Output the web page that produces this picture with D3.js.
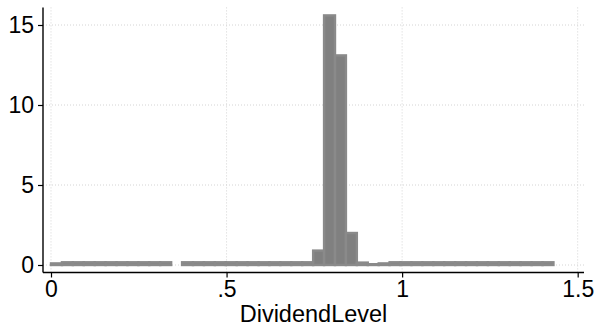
<!DOCTYPE html>
<html><head><meta charset="utf-8">
<script src="https://cdn.jsdelivr.net/npm/d3@7"></script>
<style>body{margin:0;background:#fff}svg{display:block}text{font-family:"Liberation Sans",Arial,sans-serif;fill:#000}</style>
</head><body><svg id="c" width="596" height="331"></svg>
<script>
const binMin = 0, binMax = 1.431;
const density = [0.10,0.17,0.17,0.17,0.17,0.17,0.17,0.17,0.17,0.17,0.17,0,
  0.17,0.17,0.17,0.17,0.17,0.17,0.17,0.17,0.17,0.17,0.17,0.17,
  0.90,15.6,13.1,2.0,0.15,0.05,0.10,
  0.17,0.17,0.17,0.17,0.17,0.17,0.17,0.17,0.17,0.17,0.17,0.17,0.17,0.17,0.17];
const xTicks = [0,0.5,1,1.5];
const xTickLabels = ["0",".5","1","1.5"];
const yTicks = [0,5,10,15];
const xTitle = "DividendLevel";

const svg = d3.select("#c");
const x = d3.scaleLinear().domain([-0.0228,1.518]).range([43,584]);
const y = d3.scaleLinear().domain([0,15]).range([265,25]);
const yTop = 16.1;
const bw = (binMax-binMin)/density.length;

// grid
svg.append("g").selectAll("line").data(yTicks).join("line")
  .attr("x1",43).attr("x2",584).attr("y1",d=>y(d)).attr("y2",d=>y(d))
  .attr("stroke","#d4d4d4").attr("stroke-width",1).attr("stroke-dasharray","1,2");
svg.append("g").selectAll("line").data(xTicks).join("line")
  .attr("x1",d=>x(d)).attr("x2",d=>x(d)).attr("y1",y(yTop)).attr("y2",272.5)
  .attr("stroke","#d4d4d4").attr("stroke-width",1).attr("stroke-dasharray","1,2");

// bars
svg.append("g").selectAll("rect").data(density.map((v,i)=>({v,i}))).join("rect")
  .filter(d=>d.v>0)
  .attr("x",d=>x(binMin+d.i*bw)).attr("width",d=>x(binMin+(d.i+1)*bw)-x(binMin+d.i*bw))
  .attr("y",d=>y(d.v)).attr("height",d=>y(0)-y(d.v))
  .attr("fill","#808080").attr("stroke","#8a8a8a").attr("stroke-width",2.4);

// axes
const xAxis = d3.axisBottom(x).tickValues(xTicks).tickFormat((d,i)=>xTickLabels[i]).tickSize(5).tickPadding(3);
const gx = svg.append("g").attr("transform","translate(0,272.5)").call(xAxis);
gx.select(".domain").attr("d","M43,0H584").attr("stroke","#000").attr("stroke-width",1.4);
gx.selectAll(".tick line").attr("stroke","#000").attr("stroke-width",1.2);
gx.selectAll(".tick text").attr("font-size",23).attr("font-family","Liberation Sans, Arial, sans-serif");

const yAxis = d3.axisLeft(y).tickValues(yTicks).tickSize(5).tickPadding(4);
const gy = svg.append("g").attr("transform","translate(43,0)").call(yAxis);
gy.select(".domain").attr("d",`M0,${y(yTop)}V272.5`).attr("stroke","#000").attr("stroke-width",1.4);
gy.selectAll(".tick line").attr("stroke","#000").attr("stroke-width",1.2);
gy.selectAll(".tick text").attr("font-size",23).attr("font-family","Liberation Sans, Arial, sans-serif");

svg.append("text").attr("x",(43+584)/2).attr("y",321.5).attr("text-anchor","middle")
  .attr("font-size",23.5).text(xTitle);
</script></body></html>
